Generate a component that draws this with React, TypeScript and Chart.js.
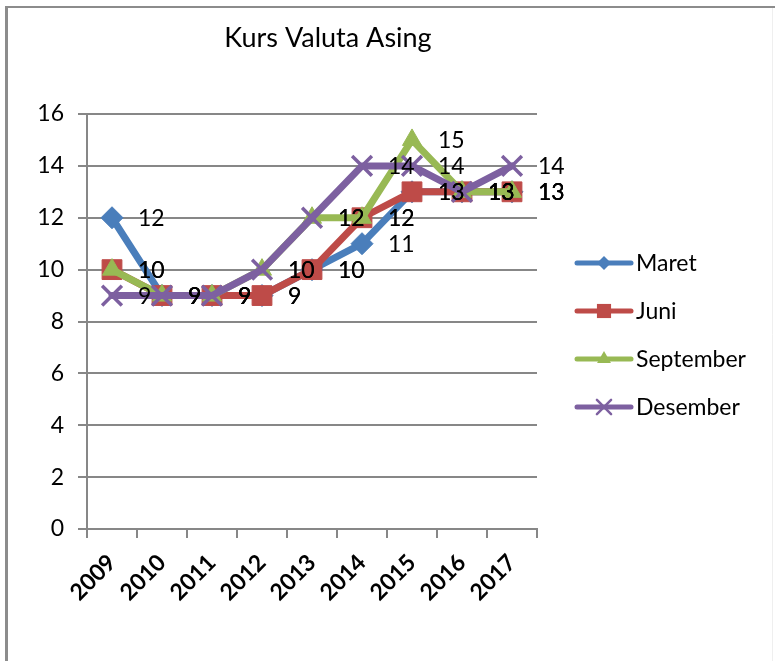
import React, { useEffect, useRef } from 'react';
import { Chart, registerables } from 'chart.js';

Chart.register(...registerables);

const chartTitle = 'Kurs Valuta Asing';
const years = ['2009', '2010', '2011', '2012', '2013', '2014', '2015', '2016', '2017'];
const seriesNames = ['Maret', 'Juni', 'September', 'Desember'];
const maret = [12, 9, 9, 9, 10, 11, 13, 13, 13];
const juni = [10, 9, 9, 9, 10, 12, 13, 13, 13];
const september = [10, 9, 9, 10, 12, 12, 15, 13, 13];
const desember = [9, 9, 9, 10, 12, 14, 14, 13, 14];
const yMin = 0;
const yMax = 16;
const yStep = 2;

const FONT = 'Lato';
const GRID = '#878787';

type Sty = { color: string; pointStyle: string; radius: number; bw: number; legendR: number };
const styles: Sty[] = [
  { color: '#4A7EBB', pointStyle: 'rectRot', radius: 11, bw: 1, legendR: 7 },
  { color: '#BE4B48', pointStyle: 'rect', radius: 14, bw: 1, legendR: 10 },
  { color: '#98B954', pointStyle: 'triangle', radius: 11, bw: 1, legendR: 8 },
  { color: '#7D60A0', pointStyle: 'crossRot', radius: 14, bw: 3.5, legendR: 10 },
];

function drawMarker(c: CanvasRenderingContext2D, s: Sty, x: number, y: number, r: number) {
  c.save();
  c.fillStyle = s.color;
  c.strokeStyle = s.color;
  c.beginPath();
  if (s.pointStyle === 'rectRot') {
    c.moveTo(x - r, y);
    c.lineTo(x, y - r);
    c.lineTo(x + r, y);
    c.lineTo(x, y + r);
    c.closePath();
    c.fill();
  } else if (s.pointStyle === 'rect') {
    const h = r * Math.SQRT1_2;
    c.rect(x - h, y - h, 2 * h, 2 * h);
    c.fill();
  } else if (s.pointStyle === 'triangle') {
    c.moveTo(x, y - r);
    c.lineTo(x + 0.866 * r, y + 0.5 * r);
    c.lineTo(x - 0.866 * r, y + 0.5 * r);
    c.closePath();
    c.fill();
  } else {
    const o = r * Math.SQRT1_2;
    c.lineWidth = 2.5;
    c.moveTo(x - o, y - o);
    c.lineTo(x + o, y + o);
    c.moveTo(x - o, y + o);
    c.lineTo(x + o, y - o);
    c.stroke();
  }
  c.restore();
}

const decor = {
  id: 'decor',
  beforeDraw(chart: any) {
    const c = chart.ctx as CanvasRenderingContext2D;
    c.save();
    c.fillStyle = '#ffffff';
    c.fillRect(0, 0, chart.width, chart.height);
    c.strokeStyle = '#8c8c8c';
    c.lineWidth = 2;
    c.beginPath();
    c.moveTo(5, 7);
    c.lineTo(chart.width, 7);
    c.stroke();
    c.lineWidth = 3;
    c.beginPath();
    c.moveTo(6.5, 6);
    c.lineTo(6.5, chart.height);
    c.stroke();
    c.strokeStyle = '#efefef';
    c.lineWidth = 1;
    c.beginPath();
    c.moveTo(772.5, 8);
    c.lineTo(772.5, chart.height);
    c.stroke();
    c.restore();
  },
  afterDatasetsDraw(chart: any) {
    const c = chart.ctx as CanvasRenderingContext2D;
    c.save();
    c.font = `23px ${FONT}`;
    c.fillStyle = '#000';
    c.textAlign = 'left';
    c.textBaseline = 'middle';
    chart.data.datasets.forEach((ds: any, i: number) => {
      const meta = chart.getDatasetMeta(i);
      meta.data.forEach((pt: any, j: number) => {
        c.fillText(String(ds.data[j]), pt.x + 26, pt.y + 1);
      });
    });
    c.restore();
  },
  afterDraw(chart: any) {
    const c = chart.ctx as CanvasRenderingContext2D;
    c.save();
    c.fillStyle = '#000';
    c.font = `27px ${FONT}`;
    c.textAlign = 'center';
    c.textBaseline = 'alphabetic';
    c.fillText(chartTitle, 328, 47);
    c.font = `23px ${FONT}`;
    c.textAlign = 'left';
    c.textBaseline = 'middle';
    chart.data.datasets.forEach((ds: any, i: number) => {
      const s = styles[i];
      const y = 263 + i * 48;
      c.strokeStyle = s.color;
      c.lineWidth = 5;
      c.lineCap = 'round';
      c.beginPath();
      c.moveTo(577, y);
      c.lineTo(631, y);
      c.stroke();
      drawMarker(c, s, 604, y, s.legendR);
      c.fillStyle = '#000';
      c.fillText(ds.label, 636, y + 1);
    });
    c.restore();
  },
};

export default function App() {
  const ref = useRef<HTMLCanvasElement>(null);
  useEffect(() => {
    const canvas = ref.current!;
    const series = [maret, juni, september, desember];
    const datasets = series.map((data, i) => ({
      label: seriesNames[i],
      data,
      borderColor: styles[i].color,
      backgroundColor: styles[i].color,
      borderWidth: 7,
      borderCapStyle: 'round',
      borderJoinStyle: 'round',
      pointStyle: styles[i].pointStyle,
      pointRadius: styles[i].radius,
      pointBorderWidth: styles[i].bw,
      pointBorderColor: styles[i].color,
      pointBackgroundColor: styles[i].color,
      tension: 0,
      order: 4 - i,
    }));
    const chart = new Chart(canvas, {
      type: 'line',
      data: { labels: years, datasets: datasets as any },
      plugins: [decor],
      options: {
        responsive: false,
        animation: false,
        devicePixelRatio: 1,
        layout: { padding: { left: 0, top: 114, right: 238, bottom: 0 } },
        plugins: {
          legend: { display: false },
          title: { display: false },
          tooltip: { enabled: false },
        },
        scales: {
          x: {
            offset: true,
            grid: {
              offset: true,
              drawOnChartArea: false,
              drawTicks: true,
              tickLength: 9,
              color: GRID,
              lineWidth: 2,
            },
            border: { display: true, color: GRID, width: 2 },
            ticks: {
              autoSkip: false,
              maxRotation: 45,
              minRotation: 45,
              padding: 11,
              color: '#000',
              font: { family: FONT, size: 23, weight: 'bold' },
            },
            afterFit: (scale: any) => {
              scale.height = 132;
            },
          },
          y: {
            min: yMin,
            max: yMax,
            ticks: {
              stepSize: yStep,
              padding: 14,
              color: '#000',
              font: { family: FONT, size: 23 },
            },
            grid: { color: GRID, lineWidth: 2, tickLength: 9, drawTicks: true },
            border: { display: true, color: GRID, width: 2 },
            afterFit: (scale: any) => {
              scale.width = 87;
            },
          },
        },
      } as any,
    });
    return () => chart.destroy();
  }, []);
  return (
    <div style={{ position: 'fixed', left: 0, top: 0, width: 775, height: 661 }}>
      <canvas ref={ref} width={775} height={661} style={{ display: 'block' }} />
    </div>
  );
}
